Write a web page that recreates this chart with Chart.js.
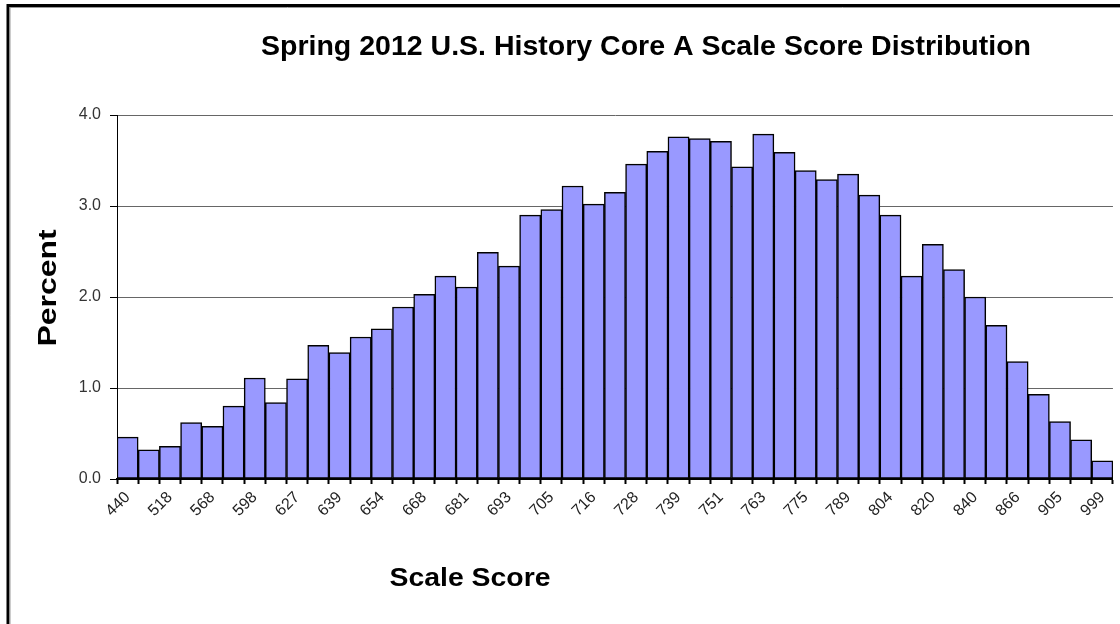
<!DOCTYPE html>
<html>
<head>
<meta charset="utf-8">
<script src="https://cdn.jsdelivr.net/npm/chart.js@4.4.1/dist/chart.umd.min.js"></script>
<style>
  html, body { margin: 0; padding: 0; background: #fff; }
  #wrap { width: 1120px; height: 624px; position: relative; }
</style>
</head>
<body>
<div id="wrap"><canvas id="c" width="1120" height="624"></canvas></div>
<script>
const chartTitle = 'Spring 2012 U.S. History Core A Scale Score Distribution';
const xTitle = 'Scale Score';
const yTitle = 'Percent';
const tickLabels = ['440','518','568','598','627','639','654','668','681','693','705','716','728','739','751','763','775','789','804','820','840','866','905','999'];
const percentValues = [0.46,0.32,0.36,0.62,0.58,0.80,1.11,0.84,1.10,1.47,1.39,1.56,1.65,1.89,2.03,2.23,2.11,2.49,2.34,2.90,2.96,3.22,3.02,3.15,3.46,3.60,3.76,3.74,3.71,3.43,3.79,3.59,3.39,3.29,3.35,3.12,2.90,2.23,2.58,2.30,2.00,1.69,1.29,0.93,0.63,0.43,0.20];
const yTicks = [0, 1, 2, 3, 4];

// Every other bar carries a label; the bars between are unlabeled.
const categories = percentValues.map((v, i) => (i % 2 === 0 ? tickLabels[i / 2] : ''));

const FONT = "'Liberation Sans', Arial, sans-serif";

function drawFitted(ctx, text, font, cx, cy, targetW, angle) {
  ctx.save();
  ctx.font = font;
  const w = ctx.measureText(text).width;
  ctx.translate(cx, cy);
  if (angle) ctx.rotate(angle);
  ctx.scale(targetW / w, 1);
  ctx.textAlign = 'center';
  ctx.textBaseline = 'middle';
  ctx.fillStyle = '#000';
  ctx.fillText(text, 0, 0);
  ctx.restore();
}

const decor = {
  id: 'decor',
  beforeDraw(chart) {
    const ctx = chart.ctx;
    ctx.save();
    ctx.fillStyle = '#fff';
    ctx.fillRect(0, 0, chart.width, chart.height);
    // frame (top + left)
    ctx.strokeStyle = '#000';
    ctx.lineWidth = 3;
    ctx.beginPath();
    ctx.moveTo(8, 624);
    ctx.lineTo(8, 5.5);
    ctx.lineTo(1120, 5.5);
    ctx.stroke();
    ctx.strokeStyle = '#999';
    ctx.lineWidth = 1;
    ctx.beginPath();
    ctx.moveTo(10, 624);
    ctx.lineTo(10, 7.5);
    ctx.lineTo(1120, 7.5);
    ctx.stroke();
    ctx.restore();
  },
  afterDraw(chart) {
    const ctx = chart.ctx;
    drawFitted(ctx, chartTitle, 'bold 28px ' + FONT, 646, 47, 770, 0);
    drawFitted(ctx, xTitle, 'bold 25px ' + FONT, 470, 579, 161, 0);
    drawFitted(ctx, yTitle, 'bold 25px ' + FONT, 49, 288, 117, -Math.PI / 2);
  }
};

new Chart(document.getElementById('c'), {
  type: 'bar',
  data: {
    labels: categories,
    datasets: [{
      data: percentValues,
      backgroundColor: '#9999FF',
      borderColor: '#000',
      borderWidth: 1.5,
      borderSkipped: false,
      barPercentage: 1,
      categoryPercentage: 1
    }]
  },
  options: {
    responsive: false,
    animation: false,
    layout: { padding: { left: 0, right: 7, top: 115, bottom: 0 } },
    plugins: {
      legend: { display: false },
      title: { display: false },
      tooltip: { enabled: false }
    },
    scales: {
      x: {
        offset: true,
        afterFit(s) { s.height = 145; },
        grid: {
          offset: true,
          drawOnChartArea: false,
          drawTicks: true,
          tickLength: 5,
          tickColor: '#000',
          tickWidth: 2
        },
        border: { display: true, color: '#000', width: 2 },
        ticks: {
          autoSkip: false,
          minRotation: 45,
          maxRotation: 45,
          color: '#222',
          padding: 4,
          font: { family: FONT, size: 16 }
        }
      },
      y: {
        min: 0,
        max: 4,
        afterFit(s) { s.width = 117; },
        afterBuildTicks(s) { s.ticks = yTicks.map(v => ({ value: v })); },
        grid: {
          color: '#666',
          lineWidth: 1,
          drawTicks: true,
          tickLength: 7,
          tickColor: '#000',
          tickWidth: 1
        },
        border: { display: true, color: '#000', width: 1 },
        ticks: {
          color: '#333',
          padding: 9,
          font: { family: FONT, size: 16 },
          callback: v => Number(v).toFixed(1)
        }
      }
    }
  },
  plugins: [decor]
});
</script>
</body>
</html>
